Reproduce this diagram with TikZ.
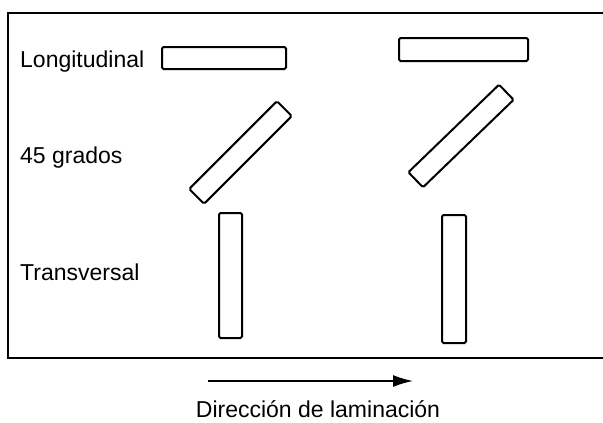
\documentclass[tikz,border=0pt]{standalone}
\usepackage{fontspec}
\setmainfont{Liberation Sans}
\usetikzlibrary{arrows.meta}
\begin{document}
\begin{tikzpicture}[x=1pt,y=-1pt,
  specimen/.style={draw=black,line width=2pt,fill=white,inner sep=0pt,rounded corners=1.5pt},
  lbl/.style={anchor=base west,inner sep=0pt,font=\fontsize{23}{27}\selectfont},
  frameline/.style={draw=black,line width=2pt}]
\useasboundingbox (0,0) rectangle (603,423);
% frame
\coordinate (ftr) at (603,13);
\coordinate (ftl) at (7.5,13);
\coordinate (fbl) at (7.5,357.5);
\coordinate (fbr) at (603,357.5);
\draw[frameline] (ftr) -- (ftl) -- (fbl) -- (fbr);
% labels
\node[lbl] (lon) at (20,67) {Longitudinal};
\node[lbl] (g45) at (20,163) {45 grados};
\node[lbl] (tra) at (20,280) {Transversal};
% specimens, left column
\node[specimen,minimum width=124pt,minimum height=22pt] (l1) at (224,58) {};
\node[specimen,minimum width=124pt,minimum height=21pt,rotate=45] (d1) at (240.5,152.5) {};
\node[specimen,minimum width=23pt,minimum height=125pt] (t1) at (230.5,275.5) {};
% specimens, right column
\node[specimen,minimum width=129pt,minimum height=23pt] (l2) at (463.5,49.5) {};
\node[specimen,minimum width=126pt,minimum height=21pt,rotate=44] (d2) at (461,136) {};
\node[specimen,minimum width=24pt,minimum height=128pt] (t2) at (454,279) {};
% rolling direction
\coordinate (a1) at (208,381);
\coordinate (a2) at (413,381);
\draw[line width=1.6pt,-{Latex[length=20pt,width=12pt]}] (a1) -- (a2);
\node[lbl,anchor=base] (dir) at (318,417) {Dirección de laminación};
\end{tikzpicture}
\end{document}
